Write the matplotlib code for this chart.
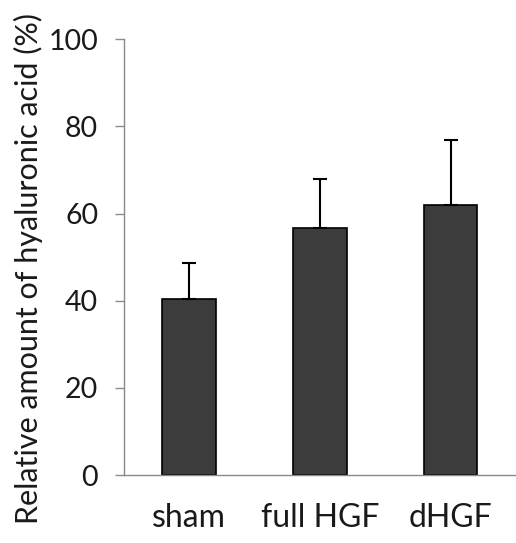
import matplotlib
matplotlib.use("Agg")
import matplotlib.pyplot as plt

groups = ["sham", "full HGF", "dHGF"]
means = [40.4, 56.6, 62.0]
upper_err = [8.2, 11.4, 14.8]

plt.rcParams['font.family'] = ['Lato', 'DejaVu Sans']

fig = plt.figure(figsize=(5.16, 5.43), dpi=100)
ax = fig.add_axes([0.240, 0.1252, 0.76, 0.8024])

x = range(len(groups))
ax.bar(x, means, width=0.41, color='#3c3c3c', edgecolor='black', linewidth=1.2,
       yerr=[[0] * len(means), upper_err],
       error_kw=dict(ecolor='black', elinewidth=1.5, capsize=5, capthick=1.5))

ax.set_xlim(-0.5, 2.5)
ax.set_ylim(0, 100)
ax.set_yticks([0, 20, 40, 60, 80, 100])
ax.set_xticks(list(x))
ax.set_xticklabels(groups)

for s in ['top', 'right']:
    ax.spines[s].set_visible(False)
for s in ['left', 'bottom']:
    ax.spines[s].set_color('#8a8a8a')
    ax.spines[s].set_linewidth(1.0)

ax.tick_params(axis='y', length=6.5, width=1.0, color='#8a8a8a', pad=12,
               labelsize=20.5, labelcolor='#1a1a1a')
ax.tick_params(axis='x', length=0, pad=20, labelsize=23, labelcolor='#1a1a1a')

ax.set_ylabel("Relative amount of hyaluronic acid (%)", fontsize=22,
              color='#1a1a1a')
ax.yaxis.set_label_coords(-0.205, 0.475)

plt.savefig("out.png", dpi=100)
